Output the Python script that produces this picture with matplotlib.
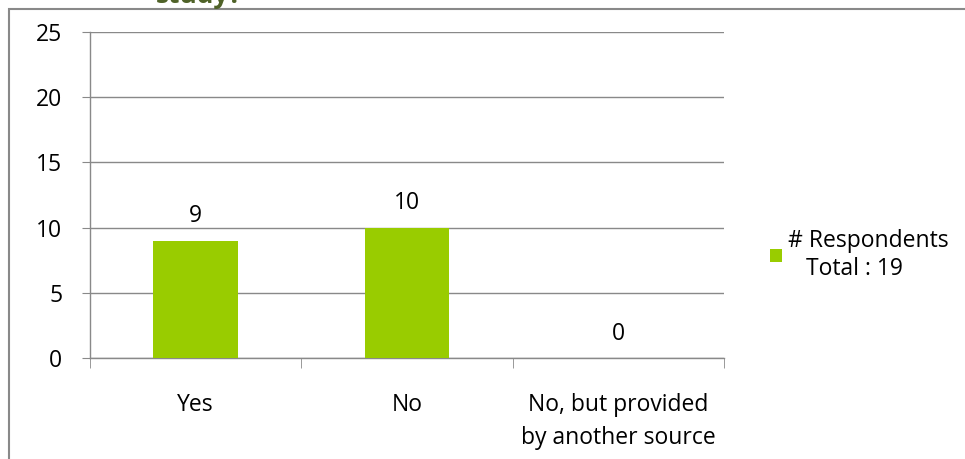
import matplotlib
matplotlib.use("Agg")
import matplotlib.pyplot as plt
from matplotlib.patches import Rectangle, Patch

categories = ["Yes", "No", "No, but provided\nby another source"]
values = [9, 10, 0]
yticks = [0, 5, 10, 15, 20, 25]
series_name = "# Respondents\n   Total : 19"
title_text = "study?"

plt.rcParams['font.family'] = ['Open Sans', 'DejaVu Sans']

W, H = 965, 459
FS = 16.5
fig = plt.figure(figsize=(W/100, H/100), dpi=100)

# outer frame
fig.patches.append(Rectangle((8.5/W, -0.1), 1.2, (H - 8.5)/H + 0.1, transform=fig.transFigure,
                             fill=False, edgecolor='#898989', linewidth=1.5, zorder=0))

fig.text(199/W, 1 - 3/H, title_text, ha='center', va='baseline', fontsize=19,
         fontweight='bold', color='#4F6228')

ax = fig.add_axes([90/W, 1 - 358/H, (724 - 90)/W, (358 - 32)/H])
x = list(range(len(categories)))
bars = ax.bar(x, values, width=0.4, color='#99CC00', zorder=3)
ax.set_xlim(-0.5, len(categories) - 0.5)
ax.set_ylim(0, 25)
ax.set_yticks(yticks)
ax.set_yticklabels([str(t) for t in yticks], fontsize=FS)
ax.set_xticks(x)
ax.set_xticklabels(categories, fontsize=FS, linespacing=1.5)
ax.set_xticks([i - 0.5 for i in range(len(categories) + 1)], minor=True)
ax.tick_params(axis='x', which='major', length=0, pad=25)
ax.tick_params(axis='x', which='minor', length=7, color='#898989', direction='out')
ax.tick_params(axis='y', length=6, color='#898989', pad=14)
ax.grid(axis='y', color='#898989', linewidth=1.0, zorder=0)
for s in ['top', 'right']:
    ax.spines[s].set_visible(False)
for s in ['left', 'bottom']:
    ax.spines[s].set_color('#898989')
    ax.spines[s].set_linewidth(1.0)

for xi, v in zip(x, values):
    ax.annotate(str(v), (xi, v), xytext=(0, 9), textcoords='offset points',
                ha='center', va='bottom', fontsize=FS)

handle = Patch(facecolor='#99CC00', edgecolor='none')
fig.legend([handle], [series_name], loc='center left', bbox_to_anchor=(761/W, 1 - 255/H),
           frameon=False, fontsize=FS, handlelength=0.5, handleheight=0.5,
           handletextpad=0.3, borderaxespad=0, labelspacing=0.2)

fig.savefig("out.png", dpi=100)
